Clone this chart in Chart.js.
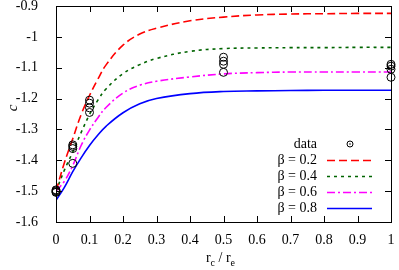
<!DOCTYPE html>
<html>
<head>
<meta charset="utf-8">
<script src="https://cdn.jsdelivr.net/npm/chart.js@4/dist/chart.umd.min.js"></script>
<style>
  html, body { margin: 0; padding: 0; background: #fff; }
  #wrap { width: 399px; height: 270px; }
</style>
</head>
<body>
<div id="wrap"><canvas id="chart" width="399" height="270"></canvas></div>
<script>
'use strict';

// measured points (x = rc/re)
const dataX = [0, 0, 0, 0, 0.05, 0.05, 0.05, 0.05, 0.1, 0.1, 0.1, 0.1, 0.5, 0.5, 0.5, 0.5, 1, 1, 1, 1];
const dataC = [-1.496, -1.499, -1.502, -1.504, -1.35, -1.355, -1.362, -1.41, -1.205, -1.215, -1.23, -1.245,
               -1.066, -1.079, -1.089, -1.115, -1.089, -1.095, -1.105, -1.131];

// curves
const curveX  = [0, 0.025, 0.05, 0.075, 0.1, 0.125, 0.15, 0.2, 0.25, 0.3, 0.4, 0.5, 0.6, 0.7, 0.8, 0.9, 1];
const beta02 = [-1.5, -1.408, -1.33, -1.252, -1.19, -1.137, -1.09, -1.027, -0.991, -0.972, -0.948, -0.936, -0.929, -0.926, -0.925, -0.924, -0.924];
const beta04 = [-1.5, -1.432, -1.373, -1.31, -1.252, -1.205, -1.168, -1.119, -1.09, -1.07, -1.047, -1.038, -1.036, -1.035, -1.035, -1.034, -1.034];
const beta06 = [-1.5, -1.468, -1.417, -1.352, -1.302, -1.262, -1.228, -1.182, -1.157, -1.144, -1.13, -1.12, -1.116, -1.114, -1.114, -1.114, -1.114];
const beta08 = [-1.53, -1.488, -1.437, -1.392, -1.352, -1.318, -1.289, -1.246, -1.217, -1.2, -1.184, -1.177, -1.175, -1.174, -1.173, -1.173, -1.173];

const seriesNames = ['β = 0.2', 'β = 0.4', 'β = 0.6', 'β = 0.8'];

const xTicks = [0, 0.1, 0.2, 0.3, 0.4, 0.5, 0.6, 0.7, 0.8, 0.9, 1];
const xTickLabels = ['0', '0.1', '0.2', '0.3', '0.4', '0.5', '0.6', '0.7', '0.8', '0.9', '1'];
const yTicks = [-1.6, -1.5, -1.4, -1.3, -1.2, -1.1, -1, -0.9];
const yTickLabels = ['-1.6', '-1.5', '-1.4', '-1.3', '-1.2', '-1.1', '-1', '-0.9'];

const SERIF = '"Liberation Serif", "DejaVu Serif", serif';

const styles = [
  { color: '#ff0000', dash: [8, 4] },
  { color: '#006400', dash: [3, 4] },
  { color: '#ff00ff', dash: [8, 3, 2, 3] },
  { color: '#0000ff', dash: [] },
];

const pts = ys => curveX.map((x, i) => ({ x, y: ys[i] }));

const datasets = [{
  type: 'scatter',
  label: 'data',
  data: dataX.map((x, i) => ({ x, y: dataC[i] })),
  pointStyle: 'circle',
  pointRadius: 4,
  borderColor: '#000',
  backgroundColor: 'rgba(0,0,0,0)',
  borderWidth: 1,
  clip: false,
}].concat([beta02, beta04, beta06, beta08].map((ys, i) => ({
  type: 'line',
  label: seriesNames[i],
  data: pts(ys),
  borderColor: styles[i].color,
  borderDash: styles[i].dash,
  borderWidth: 1.6,
  pointRadius: 0,
  fill: false,
  tension: 0.4,
})));

// frame, inner ticks, axis titles and key
const decor = {
  id: 'decor',
  afterDatasetsDraw(chart) {
    const { ctx, chartArea: a, scales: { x, y } } = chart;
    ctx.save();
    ctx.strokeStyle = '#000';
    ctx.lineWidth = 1;
    ctx.setLineDash([]);
    ctx.strokeRect(a.left + 0.5, a.top + 0.5, a.right - a.left, a.bottom - a.top);
    const t = 6;
    ctx.beginPath();
    xTicks.forEach(v => {
      const px = Math.round(x.getPixelForValue(v)) + 0.5;
      ctx.moveTo(px, a.bottom); ctx.lineTo(px, a.bottom - t);
      ctx.moveTo(px, a.top); ctx.lineTo(px, a.top + t);
    });
    yTicks.forEach(v => {
      const py = Math.round(y.getPixelForValue(v)) + 0.5;
      ctx.moveTo(a.left, py); ctx.lineTo(a.left + t, py);
      ctx.moveTo(a.right, py); ctx.lineTo(a.right - t, py);
    });
    ctx.stroke();

    // y title
    ctx.fillStyle = '#000';
    ctx.save();
    ctx.translate(13, (a.top + a.bottom) / 2 - 6);
    ctx.rotate(-Math.PI / 2);
    ctx.font = 'italic 15px ' + SERIF;
    ctx.textAlign = 'center';
    ctx.textBaseline = 'middle';
    ctx.fillText('c', 0, 0);
    ctx.restore();

    // x title: r_c / r_e
    const big = '14px ' + SERIF, small = '10px ' + SERIF;
    const parts = [['r', big, 0], ['c', small, 4], [' / r', big, 0], ['e', small, 4]];
    let w = 0;
    parts.forEach(p => { ctx.font = p[1]; w += ctx.measureText(p[0]).width; });
    let cx = (a.left + a.right) / 2 - w / 2 - 3;
    const base = 262;
    ctx.textAlign = 'left';
    ctx.textBaseline = 'alphabetic';
    parts.forEach(p => {
      ctx.font = p[1];
      ctx.fillText(p[0], cx, base + p[2]);
      cx += ctx.measureText(p[0]).width;
    });

    // key
    ctx.font = '14px ' + SERIF;
    ctx.textAlign = 'right';
    ctx.textBaseline = 'middle';
    const textX = 317, x0 = 327, x1 = 372;
    const rows = [144, 160, 176, 192, 208];
    ctx.fillText('data', textX, rows[0]);
    ctx.beginPath();
    ctx.arc(350, rows[0], 3, 0, Math.PI * 2);
    ctx.stroke();
    ctx.beginPath();
    ctx.arc(350, rows[0], 0.8, 0, Math.PI * 2);
    ctx.fill();
    seriesNames.forEach((name, i) => {
      const ry = rows[i + 1];
      ctx.fillStyle = '#000';
      ctx.fillText(name, textX, ry);
      ctx.strokeStyle = styles[i].color;
      ctx.lineWidth = 1.6;
      ctx.setLineDash(styles[i].dash);
      ctx.beginPath();
      ctx.moveTo(x0, ry + 0.5); ctx.lineTo(x1, ry + 0.5);
      ctx.stroke();
    });
    ctx.restore();
  }
};

new Chart(document.getElementById('chart'), {
  data: { datasets },
  options: {
    responsive: false,
    animation: false,
    events: [],
    layout: { padding: { top: 6, right: 8, left: 0, bottom: 0 } },
    plugins: { legend: { display: false }, tooltip: { enabled: false } },
    scales: {
      x: {
        type: 'linear', min: 0, max: 1,
        grid: { display: false },
        border: { display: false },
        afterBuildTicks: s => { s.ticks = xTicks.map(value => ({ value })); },
        afterFit: s => { s.height = 48; s.paddingLeft = 0; s.paddingRight = 0; },
        ticks: {
          padding: 2, color: '#000', maxRotation: 0, autoSkip: false,
          font: { family: SERIF, size: 14 },
          callback: (v, i) => xTickLabels[i],
        },
      },
      y: {
        type: 'linear', min: -1.6, max: -0.9,
        grid: { display: false },
        border: { display: false },
        afterBuildTicks: s => { s.ticks = yTicks.map(value => ({ value })); },
        afterFit: s => { s.width = 56; s.paddingTop = 0; s.paddingBottom = 0; },
        ticks: {
          padding: 10, color: '#000', autoSkip: false,
          font: { family: SERIF, size: 14 },
          callback: (v, i) => yTickLabels[i],
        },
      },
    },
  },
  plugins: [decor],
});
</script>
</body>
</html>
